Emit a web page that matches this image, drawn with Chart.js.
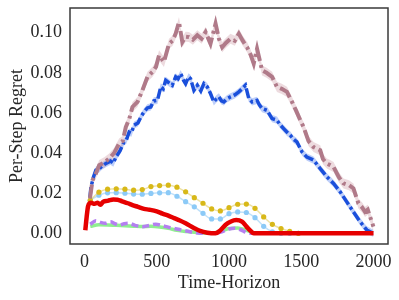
<!DOCTYPE html>
<html>
<head>
<meta charset="utf-8">
<script src="https://cdn.jsdelivr.net/npm/chart.js@4.4.1/dist/chart.umd.min.js"></script>
<style>
  html, body { margin: 0; padding: 0; background: #ffffff; }
  canvas { display: block; }
</style>
</head>
<body>
<canvas id="chart" width="399" height="300"></canvas>
<script>
// Tick labels
const xTicks = [0, 500, 1000, 1500, 2000];
const yTicks = [0.00, 0.02, 0.04, 0.06, 0.08, 0.10];

// Mauve (top) series, dash-dot, with band
const mauveX = [38, 56, 80, 102, 140, 171, 205, 240, 265, 286, 310, 332, 367, 401, 436, 470, 495, 516, 550, 585,
    610, 631, 654, 677, 700, 723, 750, 781, 810, 838, 872, 907, 930, 953, 980, 1010, 1040, 1068, 1095, 1125,
    1150, 1171, 1194, 1229, 1260, 1298, 1332, 1365, 1401, 1436, 1465, 1493, 1516, 1550, 1585, 1631, 1650, 1677,
    1700, 1723, 1760, 1792, 1830, 1861, 1895, 1920, 1941, 1960, 1976, 1999];
const mauveY = [0.0174, 0.0265, 0.030, 0.034, 0.0355, 0.0373, 0.040, 0.0448, 0.046, 0.053, 0.057, 0.063, 0.0655,
    0.0713, 0.078, 0.0804, 0.083, 0.0887, 0.0854, 0.0945, 0.096, 0.0995, 0.1053, 0.0953, 0.098, 0.0978, 0.0965,
    0.0987, 0.097, 0.1003, 0.0945, 0.1045, 0.097, 0.0928, 0.095, 0.097, 0.096, 0.0995, 0.096, 0.0928, 0.089,
    0.0846, 0.092, 0.0812, 0.080, 0.078, 0.073, 0.072, 0.0705, 0.0655, 0.061, 0.0564, 0.053, 0.046, 0.043,
    0.0414, 0.037, 0.0348, 0.034, 0.0331, 0.028, 0.0249, 0.024, 0.0224, 0.0149, 0.013, 0.0107, 0.0118, 0.0083,
    0.0033];
const mauveBand = 0.0025;

// Blue series, dash-dot, with band
const blueX = [38, 45, 62, 79, 100, 120, 148, 180, 200, 217, 245, 274, 290, 309, 325, 343, 370, 390, 412, 435,
    459, 480, 505, 528, 545, 562, 585, 608, 631, 648, 666, 684, 700, 720, 734, 757, 781, 805, 826, 850, 872,
    895, 913, 930, 948, 964, 985, 1010, 1040, 1068, 1090, 1114, 1137, 1160, 1194, 1210, 1229, 1263, 1298, 1332,
    1355, 1378, 1400, 1424, 1445, 1470, 1505, 1539, 1585, 1631, 1677, 1723, 1769, 1815, 1861, 1907, 1953, 1999];
const blueY = [0.018, 0.023, 0.028, 0.0315, 0.032, 0.0335, 0.0348, 0.036, 0.035, 0.038, 0.041, 0.0456, 0.0465,
    0.0505, 0.050, 0.0539, 0.055, 0.058, 0.0605, 0.0625, 0.063, 0.066, 0.0663, 0.073, 0.072, 0.0763, 0.075,
    0.0738, 0.078, 0.077, 0.0796, 0.0765, 0.0746, 0.078, 0.0771, 0.0713, 0.0738, 0.071, 0.0746, 0.073, 0.0697,
    0.0655, 0.067, 0.068, 0.066, 0.0655, 0.067, 0.068, 0.069, 0.0705, 0.072, 0.0738, 0.0672, 0.0655, 0.0663,
    0.064, 0.0622, 0.0613, 0.0572, 0.0564, 0.054, 0.0522, 0.0505, 0.0489, 0.047, 0.0456, 0.0406, 0.038, 0.0365,
    0.0323, 0.0282, 0.0249, 0.0207, 0.0157, 0.0107, 0.0058, 0.0017, 0.0];
const blueBand = 0.0018;

// Dotted series with markers
const dotX = [40, 100, 160, 220, 280, 340, 400, 460, 520, 580, 640, 700, 760, 820, 880, 940, 1000, 1060, 1120,
    1180, 1240, 1300, 1360, 1420, 1480];
const yellowY = [0.0165, 0.0205, 0.022, 0.0222, 0.022, 0.0215, 0.0218, 0.0233, 0.0238, 0.024, 0.023, 0.0207,
    0.0178, 0.015, 0.0122, 0.0112, 0.0128, 0.0145, 0.0146, 0.0125, 0.0082, 0.0045, 0.0024, 0.001, 0.0];
const lightBlueY = [0.0165, 0.019, 0.0202, 0.0203, 0.020, 0.0196, 0.0195, 0.0199, 0.0202, 0.0203, 0.0185,
    0.0158, 0.0132, 0.010, 0.0072, 0.0072, 0.0098, 0.0107, 0.0104, 0.0078, 0.0035, 0.0008, 0.0, 0.0, 0.0];

// Red solid series
const redX = [6, 15, 25, 45, 70, 91, 110, 130, 160, 200, 229, 260, 300, 332, 370, 412, 450, 500, 540, 580, 620,
    660, 700, 757, 800, 850, 907, 940, 975, 1010, 1050, 1090, 1120, 1150, 1171, 2000];
const redY = [0.0016, 0.008, 0.0135, 0.0152, 0.0148, 0.0153, 0.0143, 0.0158, 0.0162, 0.0169, 0.0168, 0.016,
    0.015, 0.0141, 0.0132, 0.0122, 0.0118, 0.011, 0.0098, 0.0088, 0.0076, 0.0064, 0.005, 0.0027, 0.0012, 0.0003,
    0.0, 0.0015, 0.0042, 0.0058, 0.0066, 0.0058, 0.0035, 0.0012, 0.0, 0.0];

// Purple dashed and green series (near zero)
const purpleX = [40, 79, 110, 148, 180, 210, 240, 275, 309, 350, 401, 450, 493, 540, 585, 630, 677, 730, 781,
    850, 900, 950, 1000, 1040, 1080, 1125, 1160];
const purpleY = [0.0045, 0.0063, 0.0055, 0.005, 0.0058, 0.0048, 0.0042, 0.0048, 0.005, 0.004, 0.0033, 0.004,
    0.0046, 0.0038, 0.003, 0.0023, 0.0016, 0.0008, 0.0002, 0.0, 0.0, 0.0008, 0.0022, 0.0025, 0.0018, 0.0003, 0.0];
const greenX = [40, 100, 160, 220, 280, 340, 400, 460, 520, 580, 640, 700, 760, 820, 880, 940, 1000, 1060, 1120,
    1180];
const greenY = [0.0035, 0.0043, 0.0042, 0.004, 0.0038, 0.0036, 0.0034, 0.0035, 0.0032, 0.0025, 0.0015, 0.0009,
    0.0005, 0.0002, 0.0002, 0.001, 0.0024, 0.0027, 0.0015, 0.0];

function pts(xs, ys, shift) {
    return xs.map(function(x, i) { return { x: x, y: ys[i] + (shift || 0) }; });
}

const TEXT = '#262626';
const FONT = 'Liberation Serif, "DejaVu Serif", serif';

// matplotlib-style box round the plot area
const boxPlugin = {
    id: 'box',
    afterDraw(chart) {
        const a = chart.chartArea;
        const c = chart.ctx;
        c.save();
        c.strokeStyle = '#3a3a3a';
        c.lineWidth = 1.5;
        c.strokeRect(a.left, a.top, a.right - a.left, a.bottom - a.top);
        c.restore();
    }
};

function lineSet(data, color, width, dash, extra) {
    return Object.assign({
        data: data,
        borderColor: color,
        borderWidth: width,
        borderDash: dash,
        pointRadius: 0,
        fill: false,
        tension: 0,
    }, extra || {});
}

const datasets = [
    lineSet(pts(redX, redY), '#e60000', 4.5, [], { cubicInterpolationMode: 'monotone' }),
    lineSet(pts(mauveX, mauveY), '#b07a89', 4, [14, 4, 3, 4]),
    lineSet(pts(blueX, blueY), '#1a4fdb', 3.5, [10, 3, 3, 3]),
    lineSet(pts(dotX, yellowY), 'rgba(222,200,90,0.55)', 1.5, [], {
        cubicInterpolationMode: 'monotone', pointRadius: 2.6,
        pointBackgroundColor: '#d8b818', pointBorderWidth: 0
    }),
    lineSet(pts(dotX, lightBlueY), 'rgba(140,200,245,0.55)', 1.5, [], {
        cubicInterpolationMode: 'monotone', pointRadius: 2.6,
        pointBackgroundColor: '#8ccaf7', pointBorderWidth: 0
    }),
    lineSet(pts(purpleX, purpleY), '#b47ff0', 3.5, [7, 4], { cubicInterpolationMode: 'monotone' }),
    lineSet(pts(greenX, greenY), '#90ee90', 3.5, [], { cubicInterpolationMode: 'monotone' }),
    // bands
    lineSet(pts(mauveX, mauveY, mauveBand), 'rgba(0,0,0,0)', 0, []),
    lineSet(pts(mauveX, mauveY, -mauveBand), 'rgba(0,0,0,0)', 0, [],
        { fill: '-1', backgroundColor: 'rgba(195,135,150,0.3)' }),
    lineSet(pts(blueX, blueY, blueBand), 'rgba(0,0,0,0)', 0, []),
    lineSet(pts(blueX, blueY, -blueBand), 'rgba(0,0,0,0)', 0, [],
        { fill: '-1', backgroundColor: 'rgba(40,95,235,0.3)' }),
];

new Chart(document.getElementById('chart'), {
    type: 'line',
    data: { datasets: datasets },
    plugins: [boxPlugin],
    options: {
        responsive: false,
        animation: false,
        layout: { padding: { left: 0, right: 11, top: 8, bottom: 0 } },
        plugins: { legend: { display: false }, tooltip: { enabled: false } },
        scales: {
            x: {
                type: 'linear',
                min: -100,
                max: 2100,
                afterBuildTicks: function(s) { s.ticks = xTicks.map(function(v) { return { value: v }; }); },
                afterFit: function(s) { s.height = 56; s.paddingLeft = 0; s.paddingRight = 0; },
                grid: { display: false, drawTicks: false },
                border: { display: false },
                ticks: {
                    color: TEXT, font: { family: FONT, size: 18 }, padding: 7, maxRotation: 0,
                    callback: function(v) { return String(v); }
                },
                title: {
                    display: true, text: 'Time-Horizon', color: TEXT,
                    font: { family: FONT, size: 18 }, padding: { top: 0, bottom: 6 }
                }
            },
            y: {
                min: -0.0053,
                max: 0.1123,
                afterBuildTicks: function(s) { s.ticks = yTicks.map(function(v) { return { value: v }; }); },
                afterFit: function(s) { s.width = 70; s.paddingTop = 0; s.paddingBottom = 0; },
                grid: { display: false, drawTicks: false },
                border: { display: false },
                ticks: {
                    color: TEXT, font: { family: FONT, size: 18 }, padding: 8,
                    callback: function(v) { return v.toFixed(2); }
                },
                title: {
                    display: true, text: 'Per-Step Regret', color: TEXT,
                    font: { family: FONT, size: 18 }, padding: { top: 6, bottom: 0 }
                }
            }
        }
    }
});
</script>
</body>
</html>
